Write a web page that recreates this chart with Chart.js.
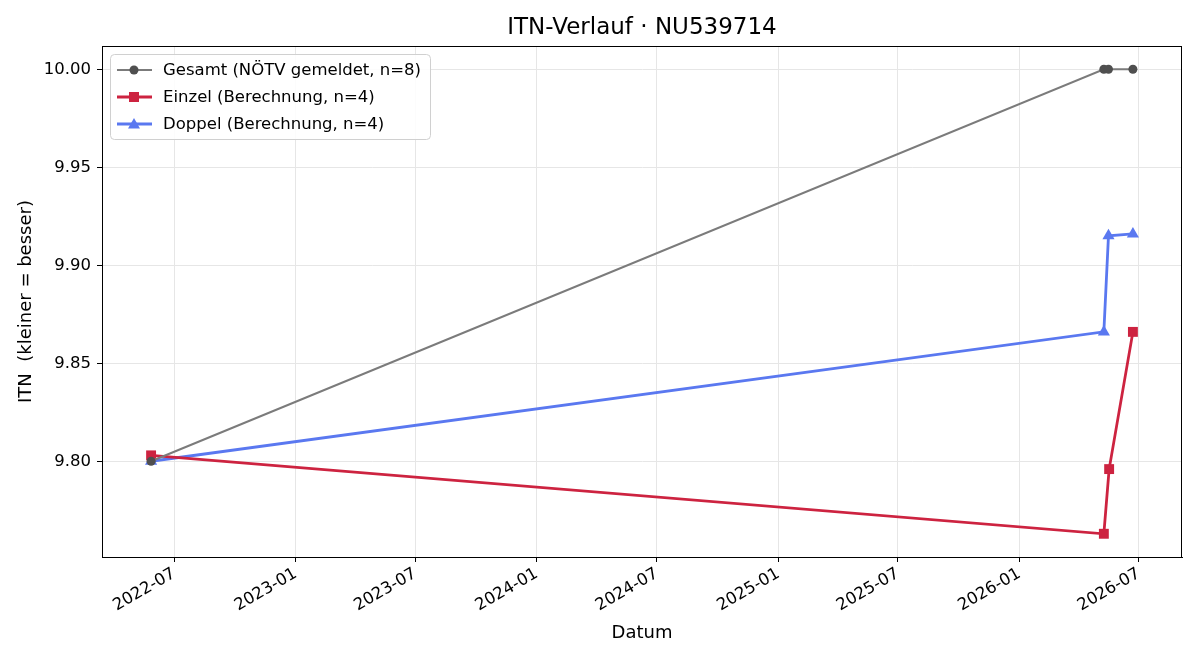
<!DOCTYPE html>
<html>
<head>
<meta charset="utf-8">
<script src="https://cdn.jsdelivr.net/npm/chart.js@4.4.0/dist/chart.umd.min.js"></script>
<style>
    html, body { margin: 0; padding: 0; background: #fff; }
    #wrap { width: 1200px; height: 660px; }
</style>
</head>
<body>
<div id="wrap"><canvas id="itnChart" width="1200" height="660"></canvas></div>
<script>

const chartTitle = "ITN-Verlauf · NU539714";
const xAxisTitle = "Datum";
const yAxisTitle = "ITN  (kleiner = besser)";

const gesamtDates = ["2022-05-27", "2026-05-09", "2026-05-16", "2026-06-22"];
const gesamtValues = [9.800, 10.000, 10.000, 10.000];

const einzelDates = ["2022-05-27", "2026-05-09", "2026-05-17", "2026-06-22"];
const einzelValues = [9.803, 9.763, 9.796, 9.866];

const doppelDates = ["2022-05-27", "2026-05-09", "2026-05-16", "2026-06-22"];
const doppelValues = [9.800, 9.866, 9.915, 9.916];

const xTickDates = ["2022-07-01", "2023-01-01", "2023-07-01", "2024-01-01", "2024-07-01",
                    "2025-01-01", "2025-07-01", "2026-01-01", "2026-07-01"];
const yTickValues = [9.80, 9.85, 9.90, 9.95, 10.00];


const toMs = (dateString) => {

    const [y, m, d] = dateString.split("-").map(Number);
    return Date.UTC(y, m - 1, d);

};

const toPoints = (dates, values) => dates.map((d, i) => ({ x: toMs(d), y: values[i] }));


// matplotlib style 5% margins round the data
const allX = [...gesamtDates, ...einzelDates, ...doppelDates].map(toMs);
const allY = [...gesamtValues, ...einzelValues, ...doppelValues];
const xMin = Math.min(...allX), xMax = Math.max(...allX);
const yMin = Math.min(...allY), yMax = Math.max(...allY);
const xPad = (xMax - xMin) * 0.05;
const yPad = (yMax - yMin) * 0.05;

const FONT = "'DejaVu Sans', sans-serif";


const decorPlugin = {
    id: "decor",
    afterDraw(chart) {

        const ctx = chart.ctx;
        const area = chart.chartArea;

        ctx.save();

        // frame on all four sides
        ctx.strokeStyle = "#000";
        ctx.lineWidth = 1;
        ctx.strokeRect(Math.round(area.left) + 0.5, Math.round(area.top) + 0.5,
                       Math.round(area.right - area.left) - 1, Math.round(area.bottom - area.top));

        // title
        ctx.fillStyle = "#000";
        ctx.textAlign = "center";
        ctx.textBaseline = "middle";
        ctx.font = `23px ${FONT}`;
        ctx.fillText(chartTitle, (area.left + area.right) / 2, 28);

        // axis titles
        ctx.font = `18px ${FONT}`;
        ctx.fillText(xAxisTitle, (area.left + area.right) / 2, 633);
        ctx.save();
        ctx.translate(26, (area.top + area.bottom) / 2);
        ctx.rotate(-Math.PI / 2);
        ctx.fillText(yAxisTitle, 0, 0);
        ctx.restore();

        // legend
        const lx = 110, ly = 54, lw = 320, lh = 85;
        ctx.beginPath();
        ctx.roundRect(lx + 0.5, ly + 0.5, lw, lh, 4);
        ctx.fillStyle = "rgba(255,255,255,0.85)";
        ctx.fill();
        ctx.strokeStyle = "#d0d0d0";
        ctx.lineWidth = 1;
        ctx.stroke();

        chart.data.datasets.forEach((ds, i) => {

            const cy = 70 + i * 27;

            ctx.strokeStyle = ds.borderColor;
            ctx.lineWidth = ds.borderWidth;
            ctx.beginPath();
            ctx.moveTo(117, cy);
            ctx.lineTo(152, cy);
            ctx.stroke();

            ctx.fillStyle = ds.pointBackgroundColor;
            ctx.beginPath();
            if (ds.pointStyle === "circle") {
                ctx.arc(134, cy, 4.5, 0, Math.PI * 2);
            } else if (ds.pointStyle === "rect") {
                ctx.rect(129, cy - 5, 10, 10);
            } else {
                ctx.moveTo(134, cy - 6);
                ctx.lineTo(140, cy + 4.5);
                ctx.lineTo(128, cy + 4.5);
                ctx.closePath();
            }
            ctx.fill();

            ctx.fillStyle = "#000";
            ctx.textAlign = "left";
            ctx.textBaseline = "middle";
            ctx.font = `16.5px ${FONT}`;
            ctx.fillText(ds.label, 163, cy + 1);

        });

        ctx.restore();

    }
};


const drawItnChart = () => {

    new Chart(
        document.getElementById("itnChart"), {
            type: "line",
            data: {
                datasets: [
                    {
                        label: "Gesamt (NÖTV gemeldet, n=8)",
                        data: toPoints(gesamtDates, gesamtValues),
                        borderColor: "#7b7b7b",
                        borderWidth: 2,
                        pointStyle: "circle",
                        pointRadius: 4.5,
                        pointBackgroundColor: "#4f4f4f",
                        pointBorderWidth: 0,
                    },
                    {
                        label: "Einzel (Berechnung, n=4)",
                        data: toPoints(einzelDates, einzelValues),
                        borderColor: "#cd2340",
                        borderWidth: 2.8,
                        pointStyle: "rect",
                        pointRadius: 7,
                        pointBackgroundColor: "#cd2340",
                        pointBorderWidth: 0,
                    },
                    {
                        label: "Doppel (Berechnung, n=4)",
                        data: toPoints(doppelDates, doppelValues),
                        borderColor: "#5a78f0",
                        borderWidth: 2.8,
                        pointStyle: "triangle",
                        pointRadius: 7,
                        pointBackgroundColor: "#5a78f0",
                        pointBorderWidth: 0,
                    }
                ]
            },
            options: {
                responsive: false,
                animation: false,
                layout: { padding: { top: 46, right: 18 } },
                plugins: {
                    legend: { display: false },
                    title: { display: false },
                    tooltip: { enabled: false }
                },
                scales: {
                    x: {
                        type: "linear",
                        min: xMin - xPad,
                        max: xMax + xPad,
                        afterBuildTicks: (scale) => {
                            scale.ticks = xTickDates.map(d => ({ value: toMs(d) }));
                        },
                        afterFit: (scale) => { scale.height = 103; },
                        ticks: {
                            autoSkip: false,
                            maxRotation: 30,
                            minRotation: 30,
                            padding: 2,
                            color: "#000",
                            font: { family: FONT, size: 16.5 },
                            callback: (value) => {
                                const d = new Date(value);
                                return `${d.getUTCFullYear()}-${String(d.getUTCMonth() + 1).padStart(2, "0")}`;
                            }
                        },
                        grid: { color: "#e6e6e6", tickColor: "#000", tickLength: 5 },
                        border: { color: "#000", width: 1 }
                    },
                    y: {
                        type: "linear",
                        min: yMin - yPad,
                        max: yMax + yPad,
                        afterBuildTicks: (scale) => {
                            scale.ticks = yTickValues.map(v => ({ value: v }));
                        },
                        afterFit: (scale) => { scale.width = 102; },
                        ticks: {
                            padding: 6,
                            color: "#000",
                            font: { family: FONT, size: 16.5 },
                            callback: (value) => value.toFixed(2)
                        },
                        grid: { color: "#e6e6e6", tickColor: "#000", tickLength: 5 },
                        border: { color: "#000", width: 1 }
                    }
                }
            },
            plugins: [decorPlugin]
        }
    );

};


drawItnChart();

</script>
</body>
</html>
